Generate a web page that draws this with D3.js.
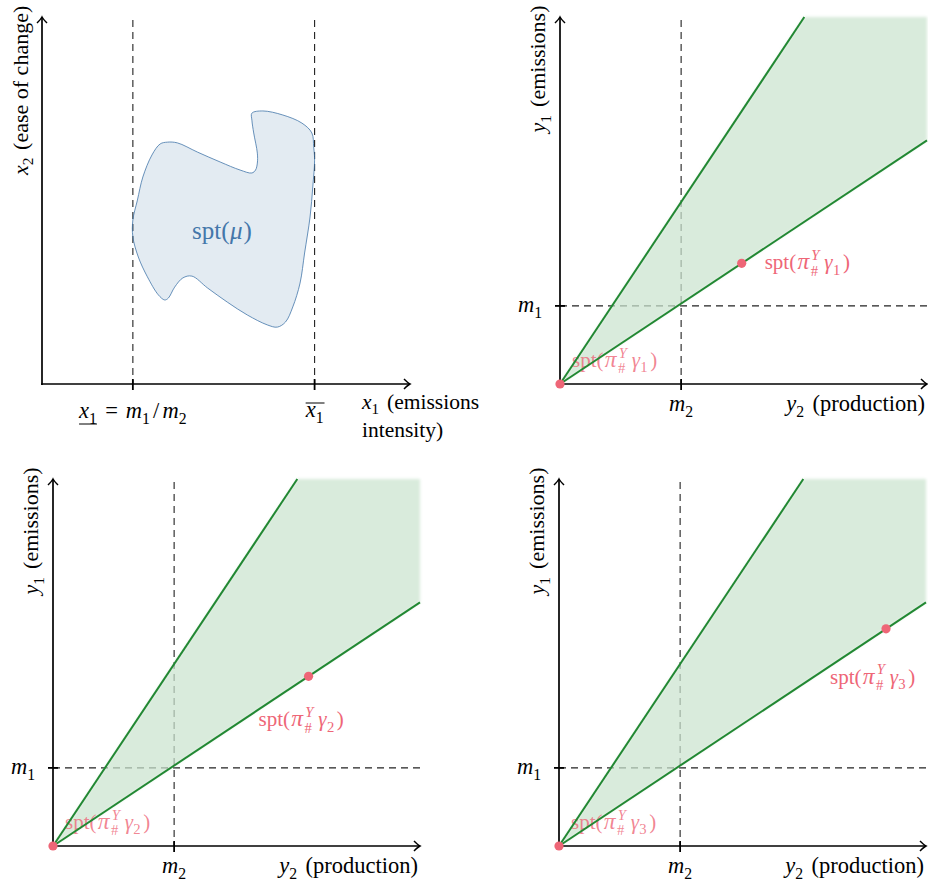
<!DOCTYPE html>
<html>
<head>
<meta charset="utf-8">
<script src="https://cdn.jsdelivr.net/npm/d3@7"></script>
<style>
  body { margin: 0; background: #fff; }
</style>
</head>
<body>
<div id="vis"></div>
<script>
// ---- data ----
// top-left panel: support of mu in (x1, x2) units, x1 lower bound = 1, upper bound = 3
var x1Low = 1, x1High = 3;
var blobX = [2.31, 2.43, 2.65, 2.86, 2.97, 2.99, 3.00, 2.98, 2.95, 2.89, 2.84, 2.76, 2.68, 2.59, 2.48,
             2.26, 2.04, 1.82, 1.65, 1.55, 1.46, 1.39, 1.35, 1.28, 1.16, 1.06, 1.00, 1.00, 1.05, 1.11,
             1.21, 1.30, 1.38, 1.49, 1.71, 1.96, 2.18, 2.31, 2.35, 2.37, 2.37, 2.33, 2.31];
var blobY = [7.38, 7.44, 7.33, 7.11, 6.84, 6.46, 6.10, 5.37, 4.55, 3.57, 2.75, 2.10, 1.69, 1.55, 1.61,
             1.88, 2.23, 2.62, 2.94, 2.89, 2.64, 2.34, 2.29, 2.43, 2.92, 3.46, 4.01, 4.47, 5.01, 5.64,
             6.24, 6.54, 6.59, 6.57, 6.32, 6.05, 5.83, 5.75, 5.83, 6.02, 6.29, 6.84, 7.19];

// cone panels: y2 (production) vs y1 (emissions), m2 = 1 and m1 = 1 in axis units
var m1 = 1, m2 = 1;
var y2Max = 3.03, y1Max = 4.7;
var upperSlope = 2.33, lowerSlope = 1.03;
var gammaIndex = ["1", "2", "3"];
var gammaY2 = [1.50, 2.11, 2.70];   // position of spt(pi#gamma_k) along the lower ray

// ---- colours ----
var blue = "#4477AA", green = "#228833", red = "#EE6677";
var serif = "'Liberation Serif', 'DejaVu Serif', serif";

var width = 928, height = 884;
var svg = d3.select("#vis").append("svg")
    .attr("width", width)
    .attr("height", height)
    .attr("font-family", serif);

var defs = svg.append("defs");
defs.append("marker")
    .attr("id", "arr")
    .attr("viewBox", "-10 -7 12 14")
    .attr("refX", 0).attr("refY", 0)
    .attr("markerWidth", 12).attr("markerHeight", 14)
    .attr("markerUnits", "userSpaceOnUse")
    .attr("orient", "auto")
  .append("path")
    .attr("d", "M-6,-5 Q-2,-1 0,0 Q-2,1 -6,5")
    .attr("fill", "none").attr("stroke", "#000").attr("stroke-width", 1.5);
defs.append("filter")
    .attr("id", "soft")
    .attr("x", "-5%").attr("y", "-5%").attr("width", "110%").attr("height", "110%")
  .append("feGaussianBlur").attr("stdDeviation", 1.6);

// text with italic / sub / sup pieces
function I(t, dx) { return {t: t, i: 1, dx: dx}; }
function R(t, dx) { return {t: t, dx: dx}; }
function SUB(t, dx) { return {t: t, sc: 0.7, sh: 0.25, dx: dx}; }

function mtext(sel, x, y, segs, o) {
    var t = sel.append("text")
        .attr("x", x).attr("y", y)
        .attr("font-family", serif)
        .attr("font-size", o.size)
        .attr("fill", o.fill || "#000")
        .attr("text-anchor", o.anchor || "start");
    if (o.rotate) t.attr("transform", "rotate(-90," + x + "," + y + ")");
    if (o.opacity) t.attr("fill-opacity", o.opacity);
    var cur = 0;
    segs.forEach(function(s) {
        var sh = (s.sh || 0) * o.size;
        var ts = t.append("tspan").text(s.t);
        if (s.nl) { ts.attr("x", x); sh = 0; ts.attr("dy", s.nl - cur); cur = 0; }
        else if (sh - cur) ts.attr("dy", sh - cur);
        cur = sh;
        if (s.i) ts.attr("font-style", "italic");
        if (s.sc) ts.attr("font-size", s.sc * o.size);
        if (s.dx) ts.attr("dx", s.dx * o.size);
    });
    return t;
}

function sptLabel(k) {
    return [R("spt("), {t: "π", i: 1, sc: 1.12, dx: 0.06},
            {t: "Y", i: 1, sc: 0.7, sh: -0.45, dx: 0.1},
            {t: "#", sc: 0.7, sh: 0.3, dx: -0.42},
            I("γ", 0.3), SUB(k, 0.02), R(")", 0.12)];
}

function axes(g, ox, oy, xEnd, yTop) {
    g.append("line")
        .attr("x1", ox - 1).attr("y1", oy).attr("x2", xEnd).attr("y2", oy)
        .attr("stroke", "#000").attr("stroke-width", 1.7)
        .attr("marker-end", "url(#arr)");
    g.append("line")
        .attr("x1", ox).attr("y1", oy + 1).attr("x2", ox).attr("y2", yTop)
        .attr("stroke", "#000").attr("stroke-width", 1.7)
        .attr("marker-end", "url(#arr)");
}

function dashed(g, x1, y1, x2, y2) {
    g.append("line")
        .attr("x1", x1).attr("y1", y1).attr("x2", x2).attr("y2", y2)
        .attr("stroke", "#222").attr("stroke-width", 1.1)
        .attr("stroke-dasharray", "7,5");
}

function tick(g, x1, y1, x2, y2) {
    g.append("line")
        .attr("x1", x1).attr("y1", y1).attr("x2", x2).attr("y2", y2)
        .attr("stroke", "#000").attr("stroke-width", 1.8);
}

// ---- top-left: spt(mu) ----
(function() {
    var ox = 42, oy = 384;
    var x = d3.scaleLinear().domain([0, 4.05]).range([ox, ox + 368]);
    var y = d3.scaleLinear().domain([0, 10]).range([oy, oy - 367]);
    var g = svg.append("g");

    [x1Low, x1High].forEach(function(v) {
        dashed(g, x(v), y(9.92), x(v), oy);
    });

    var pts = blobX.map(function(v, i) { return [v, blobY[i]]; });
    g.append("path")
        .datum(pts)
        .attr("d", d3.line()
            .x(function(d) { return x(d[0]); })
            .y(function(d) { return y(d[1]); })
            .curve(d3.curveCatmullRomClosed.alpha(0.5)))
        .attr("fill", blue).attr("fill-opacity", 0.15)
        .attr("stroke", blue).attr("stroke-opacity", 0.8).attr("stroke-width", 1);

    mtext(g, x(1.98), y(3.95), [R("spt("), I("μ", 0.02), R(")", 0.04)],
        {size: 25, fill: blue, anchor: "middle"});

    axes(g, ox, oy, x(4.05), y(10));
    [x1Low, x1High].forEach(function(v) { tick(g, x(v), oy - 5, x(v), oy + 6); });

    var t1 = mtext(g, x(x1Low), oy + 34,
        [I("x"), SUB("1"), R(" = ", 0.12), I("m", 0.1), SUB("1"), R("/", 0.14), I("m", 0.14), SUB("2")],
        {size: 22.5, anchor: "middle"});
    var a = t1.node().getExtentOfChar(0), b = t1.node().getExtentOfChar(1);
    g.append("line")
        .attr("x1", a.x).attr("x2", b.x + b.width)
        .attr("y1", oy + 40).attr("y2", oy + 40)
        .attr("stroke", "#000").attr("stroke-width", 1);

    var t2 = mtext(g, x(x1High), oy + 33, [I("x"), SUB("1")], {size: 22.5, anchor: "middle"});
    a = t2.node().getExtentOfChar(0); b = t2.node().getExtentOfChar(1);
    g.append("line")
        .attr("x1", a.x).attr("x2", b.x + b.width + 1)
        .attr("y1", oy + 19).attr("y2", oy + 19)
        .attr("stroke", "#000").attr("stroke-width", 1);

    mtext(g, ox + 320, oy + 25,
        [I("x"), SUB("1"), R(" (emissions", 0.12), {t: "intensity)", nl: 28}],
        {size: 21.5});

    mtext(g, ox - 14, y(8.0), [I("x"), SUB("2"), R(" (ease of change)", 0.1)],
        {size: 22, anchor: "middle", rotate: true});
})();

// ---- cone panels ----
var panels = [
    {ox: 560, oy: 384},
    {ox: 53, oy: 846},
    {ox: 559, oy: 846}
];
// offset of each spt label from its point
var labelDx = [23, -50, -56], labelDy = [6, 50, 55];

panels.forEach(function(p, k) {
    var x = d3.scaleLinear().domain([0, y2Max]).range([p.ox, p.ox + 367]);
    var y = d3.scaleLinear().domain([0, y1Max]).range([p.oy, p.oy - 367]);
    var g = svg.append("g");
    var line = d3.line()
        .x(function(d) { return x(d[0]); })
        .y(function(d) { return y(d[1]); });

    dashed(g, x(m2), y(y1Max) + 3, x(m2), p.oy);
    dashed(g, p.ox, y(m1), x(y2Max), y(m1));

    var cone = [[0, 0], [y1Max / upperSlope, y1Max], [y2Max, y1Max], [y2Max, y2Max * lowerSlope]];
    g.append("path")
        .datum(cone)
        .attr("d", line(cone) + "Z")
        .attr("fill", "rgb(203,227,207)").attr("fill-opacity", 0.72)
        .attr("filter", "url(#soft)");

    mtext(g, p.ox + 12, p.oy - 17, sptLabel(gammaIndex[k]),
        {size: 21, fill: red, opacity: 0.8});

    axes(g, p.ox, p.oy, x(y2Max), y(y1Max));
    tick(g, x(m2), p.oy - 5, x(m2), p.oy + 6);
    tick(g, p.ox - 5, y(m1), p.ox + 5, y(m1));

    [upperSlope, lowerSlope].forEach(function(s) {
        var end = Math.min(y2Max, y1Max / s);
        g.append("path")
            .attr("d", line([[0, 0], [end, end * s]]))
            .attr("fill", "none").attr("stroke", green).attr("stroke-width", 2);
    });

    var px = x(gammaY2[k]), py = y(gammaY2[k] * lowerSlope);
    g.selectAll("circle.pt")
        .data([[0, 0], [gammaY2[k], gammaY2[k] * lowerSlope]])
        .enter().append("circle")
        .attr("cx", function(d) { return x(d[0]); })
        .attr("cy", function(d) { return y(d[1]); })
        .attr("r", 4.6)
        .attr("fill", red);

    mtext(g, px + labelDx[k], py + labelDy[k], sptLabel(gammaIndex[k]), {size: 21, fill: red});

    mtext(g, p.ox - 18, y(m1) + 6, [I("m"), SUB("1")], {size: 22.5, anchor: "end"});
    mtext(g, x(m2), p.oy + 27, [I("m"), SUB("2")], {size: 22.5, anchor: "middle"});
    mtext(g, x(y2Max) - 2, p.oy + 27, [I("y"), SUB("2"), R(" (production)", 0.12)],
        {size: 22.5, anchor: "end"});
    mtext(g, p.ox - 15, p.oy - 315, [I("y"), SUB("1"), R(" (emissions)", 0.12)],
        {size: 22, anchor: "middle", rotate: true});
});
</script>
</body>
</html>
